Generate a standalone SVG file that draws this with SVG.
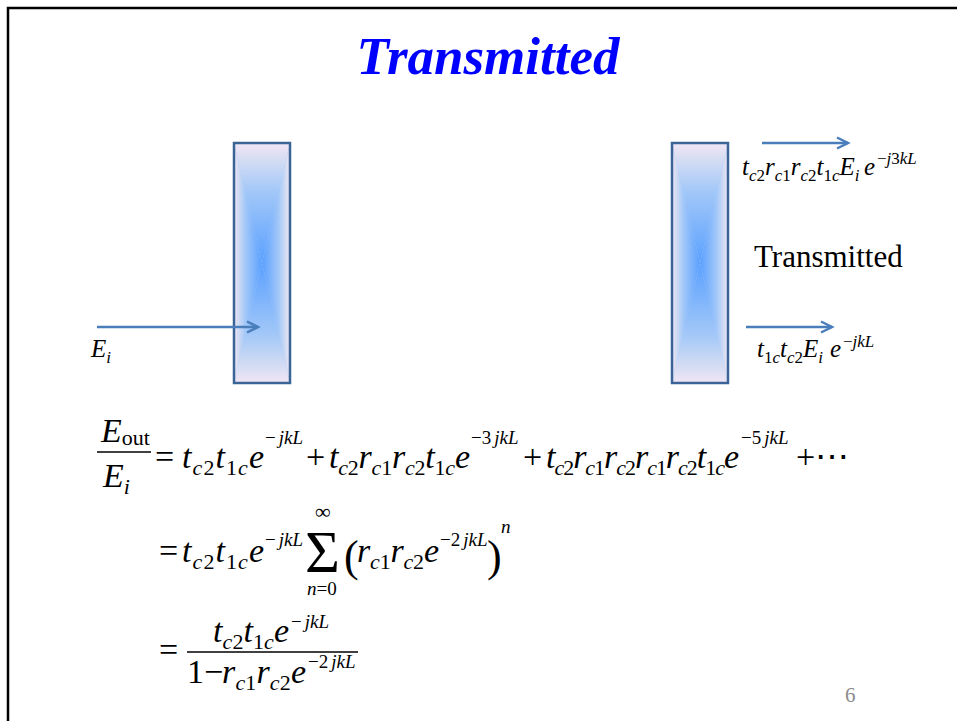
<svg xmlns="http://www.w3.org/2000/svg" width="957" height="721" viewBox="0 0 957 721">
<style>
text{font-family:'Liberation Serif','Times New Roman',serif;fill:#000}
.i{font-style:italic}
.r{font-style:normal}
.m{font-size:34px}
.s{font-size:22px}
.p{font-size:19px}
.l{font-size:25px}
.ls{font-size:17px}
.arr{stroke:#4a7ebb;stroke-width:2.5;fill:none;marker-end:url(#ah)}
.bar{stroke:#000;stroke-width:1.5}
</style>
<defs>
<marker id="ah" markerUnits="userSpaceOnUse" markerWidth="16" markerHeight="14" refX="13" refY="7" orient="auto" viewBox="0 0 16 14">
<path d="M2,1.5 L13,7 L2,12.5" fill="none" stroke="#4a7ebb" stroke-width="2.5"/>
</marker>
<linearGradient id="gl" x1="0" y1="0" x2="1" y2="0"><stop offset="0" stop-color="#f2e5f5"/><stop offset="0.12" stop-color="#d8def3"/><stop offset="0.4" stop-color="#a3c8f8"/><stop offset="1" stop-color="#5aa0ff"/></linearGradient>
<linearGradient id="gr" x1="1" y1="0" x2="0" y2="0"><stop offset="0" stop-color="#f2e5f5"/><stop offset="0.12" stop-color="#d8def3"/><stop offset="0.4" stop-color="#a3c8f8"/><stop offset="1" stop-color="#5aa0ff"/></linearGradient>
<linearGradient id="gt" x1="0" y1="0" x2="0" y2="1"><stop offset="0" stop-color="#f2e5f5"/><stop offset="0.12" stop-color="#d8def3"/><stop offset="0.4" stop-color="#a3c8f8"/><stop offset="1" stop-color="#5aa0ff"/></linearGradient>
<linearGradient id="gb" x1="0" y1="1" x2="0" y2="0"><stop offset="0" stop-color="#f2e5f5"/><stop offset="0.12" stop-color="#d8def3"/><stop offset="0.4" stop-color="#a3c8f8"/><stop offset="1" stop-color="#5aa0ff"/></linearGradient>
<g id="plate">
<rect x="0" y="0" width="56" height="240" fill="#b0cbf6"/>
<polygon points="0,0 28,120 0,240" fill="url(#gl)"/>
<polygon points="56,0 28,120 56,240" fill="url(#gr)"/>
<polygon points="0,0 56,0 28,120" fill="url(#gt)"/>
<polygon points="0,240 56,240 28,120" fill="url(#gb)"/>
<rect x="0" y="0" width="56" height="240" fill="none" stroke="#3b6496" stroke-width="2.5"/>
</g>
</defs>
<rect width="957" height="721" fill="#fff"/>
<path d="M8,721 V8 H957" fill="none" stroke="#000" stroke-width="2.5"/>

<g id="title"><text x="488" y="74" text-anchor="middle" font-size="53" font-weight="bold" font-style="italic" style="fill:#0000ff">Transmitted</text></g>

<g id="mirror1"><use href="#plate" x="234" y="143"/></g>
<g id="mirror2"><use href="#plate" x="672" y="143"/></g>

<g id="connectors">
<line class="arr" x1="97" y1="327" x2="258" y2="327"/>
<line class="arr" x1="762" y1="143" x2="848" y2="143"/>
<line class="arr" x1="746" y1="327" x2="832" y2="327"/>
</g>

<g id="label-Ei"><text class="l i" x="91" y="357">E<tspan class="ls" y="363">i</tspan></text></g>

<g id="label-top"><text class="l i" x="742" y="175">t<tspan class="ls" y="181">c</tspan><tspan class="ls r" y="181">2</tspan><tspan y="175">r</tspan><tspan class="ls" y="181">c</tspan><tspan class="ls r" y="181">1</tspan><tspan y="175">r</tspan><tspan class="ls" y="181">c</tspan><tspan class="ls r" y="181">2</tspan><tspan y="175">t</tspan><tspan class="ls r" y="181">1</tspan><tspan class="ls" y="181">c</tspan><tspan y="175">E</tspan><tspan class="ls" y="181">i</tspan><tspan x="864" y="175">e</tspan><tspan class="ls r" x="877" y="164">−</tspan><tspan class="ls" y="164">j</tspan><tspan class="ls r" y="164">3</tspan><tspan class="ls" y="164">kL</tspan></text></g>

<g id="label-transmitted"><text x="754" y="267" font-size="31">Transmitted</text></g>

<g id="label-bottom"><text class="l i" x="757" y="357">t<tspan class="ls r" y="363">1</tspan><tspan class="ls" y="363">c</tspan><tspan y="357">t</tspan><tspan class="ls" y="363">c</tspan><tspan class="ls r" y="363">2</tspan><tspan y="357">E</tspan><tspan class="ls" y="363">i</tspan><tspan x="830" y="357">e</tspan><tspan class="ls r" x="843" y="347">−</tspan><tspan class="ls" y="347">jkL</tspan></text></g>

<g id="eq1">
<text class="m i" x="101" y="442">E<tspan class="s r" y="445">out</tspan></text>
<line class="bar" x1="97" y1="452" x2="151" y2="452"/>
<text class="m i" x="103" y="487">E<tspan class="s" y="494">i</tspan></text>
<text class="m r" x="155" y="468">=</text>
<text class="m i" x="182" y="468" textLength="82" lengthAdjust="spacing">t<tspan class="s" y="475">c</tspan><tspan class="s r" y="475">2</tspan><tspan y="468">t</tspan><tspan class="s r" y="475">1</tspan><tspan class="s" y="475">c</tspan><tspan y="468">e</tspan></text>
<text class="p r" x="265" y="444">−<tspan class="i" dx="3">jkL</tspan></text>
<text class="m r" x="306" y="468">+</text>
<text class="m i" x="329" y="468" textLength="141" lengthAdjust="spacing">t<tspan class="s" y="475">c</tspan><tspan class="s r" y="475">2</tspan><tspan y="468">r</tspan><tspan class="s" y="475">c</tspan><tspan class="s r" y="475">1</tspan><tspan y="468">r</tspan><tspan class="s" y="475">c</tspan><tspan class="s r" y="475">2</tspan><tspan y="468">t</tspan><tspan class="s r" y="475">1</tspan><tspan class="s" y="475">c</tspan><tspan y="468">e</tspan></text>
<text class="p r" x="471" y="444">−3<tspan class="i" dx="3">jkL</tspan></text>
<text class="m r" x="523" y="468">+</text>
<text class="m i" x="546" y="468" textLength="193" lengthAdjust="spacing">t<tspan class="s" y="475">c</tspan><tspan class="s r" y="475">2</tspan><tspan y="468">r</tspan><tspan class="s" y="475">c</tspan><tspan class="s r" y="475">1</tspan><tspan y="468">r</tspan><tspan class="s" y="475">c</tspan><tspan class="s r" y="475">2</tspan><tspan y="468">r</tspan><tspan class="s" y="475">c</tspan><tspan class="s r" y="475">1</tspan><tspan y="468">r</tspan><tspan class="s" y="475">c</tspan><tspan class="s r" y="475">2</tspan><tspan y="468">t</tspan><tspan class="s r" y="475">1</tspan><tspan class="s" y="475">c</tspan><tspan y="468">e</tspan></text>
<text class="p r" x="741" y="444">−5<tspan class="i" dx="3">jkL</tspan></text>
<text class="m r" x="796" y="468">+⋯</text>
</g>

<g id="eq2">
<text class="m r" x="159" y="562">=</text>
<text class="m i" x="182" y="562" textLength="82" lengthAdjust="spacing">t<tspan class="s" y="569">c</tspan><tspan class="s r" y="569">2</tspan><tspan y="562">t</tspan><tspan class="s r" y="569">1</tspan><tspan class="s" y="569">c</tspan><tspan y="562">e</tspan></text>
<text class="p r" x="265" y="546">−<tspan class="i" dx="3">jkL</tspan></text>
<text class="r" x="305" y="572" font-size="60">Σ</text>
<text class="r" x="315" y="519" font-size="22">∞</text>
<text class="p i" x="307" y="595">n<tspan class="r">=0</tspan></text>
<text class="r" x="344" y="571" font-size="44">(</text>
<text class="m i" x="357" y="562" textLength="82" lengthAdjust="spacing">r<tspan class="s" y="569">c</tspan><tspan class="s r" y="569">1</tspan><tspan y="562">r</tspan><tspan class="s" y="569">c</tspan><tspan class="s r" y="569">2</tspan><tspan y="562">e</tspan></text>
<text class="p r" x="440" y="546">−2<tspan class="i" dx="3">jkL</tspan></text>
<text class="r" x="487" y="571" font-size="44">)</text>
<text class="p i" x="501" y="533">n</text>
</g>

<g id="eq3">
<text class="m r" x="159" y="661">=</text>
<text class="m i" x="213" y="642" textLength="76" lengthAdjust="spacing">t<tspan class="s" y="649">c</tspan><tspan class="s r" y="649">2</tspan><tspan y="642">t</tspan><tspan class="s r" y="649">1</tspan><tspan class="s" y="649">c</tspan><tspan y="642">e</tspan></text>
<text class="p r" x="291" y="628">−<tspan class="i" dx="3">jkL</tspan></text>
<line class="bar" x1="187" y1="652" x2="358" y2="652"/>
<text class="m r" x="187" y="683">1−</text>
<text class="m i" x="222" y="683" textLength="84" lengthAdjust="spacing">r<tspan class="s" y="690">c</tspan><tspan class="s r" y="690">1</tspan><tspan y="683">r</tspan><tspan class="s" y="690">c</tspan><tspan class="s r" y="690">2</tspan><tspan y="683">e</tspan></text>
<text class="p r" x="308" y="668">−2<tspan class="i" dx="3">jkL</tspan></text>
</g>

<g id="page"><text x="845" y="702" font-size="21" style="fill:#8c8c8c">6</text></g>
</svg>
